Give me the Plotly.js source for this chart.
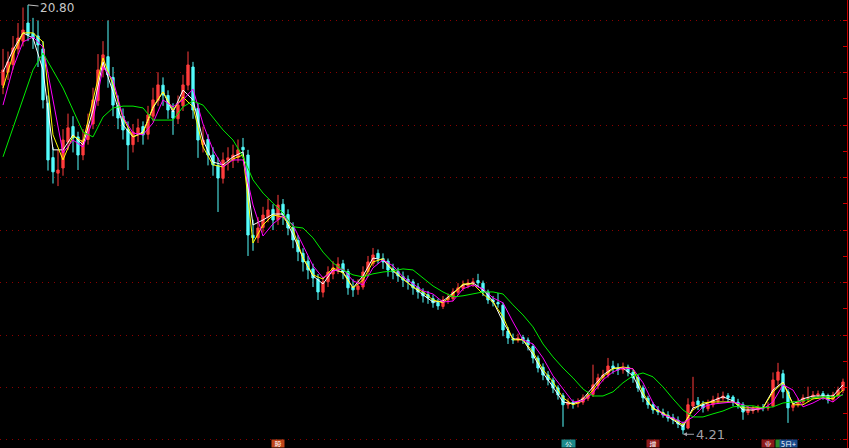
<!DOCTYPE html>
<html>
<head>
<meta charset="utf-8">
<script src="https://cdn.plot.ly/plotly-3.0.1.min.js"></script>
<style>html,body{margin:0;padding:0;background:#000;}#chart{width:849px;height:448px;}</style>
</head>
<body>
<div id="chart"></div>
<script>
// Daily candles (index = trading day), prices
const opens = [
17.70,18.20,18.50,19.10,19.40,20.10,19.70,19.60,19.10,17.00,
14.90,14.30,14.50,15.50,16.10,15.70,15.00,15.60,16.20,17.10,
18.30,18.80,18.00,16.90,16.50,16.00,15.40,15.80,16.10,15.80,
16.50,17.10,17.70,17.30,16.70,16.40,16.90,17.70,18.40,16.80,
15.40,15.60,15.00,14.60,14.10,14.80,14.80,14.90,15.30,15.00,
11.90,11.80,12.20,12.60,12.90,12.50,13.10,12.70,12.20,11.70,
11.20,10.90,10.60,10.20,9.70,10.10,10.40,10.60,10.80,10.50,
9.90,9.80,9.90,10.50,10.80,11.20,11.00,10.90,10.60,10.50,
10.30,10.20,10.10,9.90,9.70,9.60,9.45,9.30,9.15,9.40,
9.45,9.70,9.85,9.95,10.05,10.15,10.05,9.70,9.40,9.30,
9.20,8.20,7.90,7.85,7.95,7.85,7.60,7.15,6.80,6.50,
6.30,6.00,5.70,5.35,5.45,5.40,5.45,5.60,5.75,6.10,
6.40,6.50,6.85,6.75,6.70,6.80,6.60,6.40,6.00,5.60,
5.35,5.15,5.05,4.95,4.85,4.75,4.60,4.45,5.30,5.50,
5.35,5.20,5.35,5.50,5.60,5.70,5.65,5.45,5.35,5.05,
5.12,5.15,5.25,5.22,5.30,6.30,6.55,5.85,5.25,5.35,
5.45,5.60,5.62,5.72,5.78,5.70,5.55,5.72,5.90];
const highs = [
19.10,19.00,19.60,20.10,20.70,20.80,20.30,20.20,19.40,17.30,
15.30,15.20,16.00,16.60,16.50,15.90,16.00,16.60,17.60,18.90,
19.40,20.20,18.40,17.30,16.80,16.30,16.20,16.40,16.30,16.90,
17.60,18.20,18.00,17.50,17.00,17.30,18.10,19.00,18.60,17.00,
16.10,15.80,15.30,14.90,15.10,15.30,15.40,15.60,15.66,15.20,
12.50,12.60,13.00,13.30,13.10,13.46,13.30,12.90,12.40,11.90,
11.40,11.10,10.80,10.40,10.30,10.70,10.90,11.05,10.95,10.60,
10.20,10.20,10.70,11.10,11.41,11.35,11.20,11.00,10.80,10.65,
10.50,10.35,10.20,10.05,9.85,9.75,9.60,9.45,9.55,9.65,
9.85,10.05,10.15,10.20,10.25,10.41,10.15,9.80,9.55,9.67,
9.30,8.35,8.10,8.10,8.05,7.95,7.70,7.25,6.95,6.65,
6.40,6.10,5.80,5.60,5.55,5.60,5.75,5.85,6.90,6.55,
6.70,7.16,7.05,6.95,6.98,6.90,6.70,6.50,6.10,5.70,
5.45,5.30,5.20,5.10,5.00,4.90,4.70,5.60,6.43,5.65,
5.50,5.55,5.70,5.80,5.86,5.80,5.72,5.58,5.45,5.30,
5.30,5.35,5.38,5.45,6.60,6.97,6.70,5.95,5.50,5.60,
5.75,6.05,5.88,5.90,5.88,5.78,5.85,6.05,6.36];
const lows = [
17.35,17.90,18.30,18.90,19.20,19.40,19.10,18.40,16.80,14.40,
13.90,13.80,14.20,15.20,15.10,14.42,14.80,15.40,16.00,16.90,
18.00,17.60,16.50,16.00,15.60,14.42,15.10,15.50,15.40,15.60,
16.30,16.90,16.90,16.40,15.78,16.20,16.70,17.50,16.40,14.89,
15.10,14.60,14.20,12.80,13.90,14.40,14.50,14.70,14.90,11.10,
11.30,11.60,12.00,12.40,12.10,12.30,12.30,11.90,11.40,10.90,
10.50,10.20,9.90,9.40,9.50,9.90,10.20,10.40,10.20,9.60,
9.52,9.60,9.80,10.30,10.70,10.80,10.60,10.30,10.20,10.10,
9.90,9.80,9.60,9.45,9.30,9.25,9.10,9.02,9.05,9.25,
9.35,9.60,9.75,9.85,9.90,9.90,9.55,9.25,9.15,9.10,
8.00,7.70,7.70,7.75,7.70,7.45,6.95,6.60,6.30,6.10,
5.80,5.55,4.50,5.20,5.20,5.25,5.35,5.50,5.65,5.95,
6.25,6.40,6.55,6.50,6.55,6.45,6.20,5.85,5.45,5.20,
5.00,4.95,4.85,4.70,4.60,4.45,4.21,4.40,5.15,5.15,
5.05,5.10,5.25,5.40,5.50,5.45,5.30,5.20,4.77,4.95,
5.00,5.05,5.10,5.12,5.25,6.10,5.60,4.65,5.10,5.25,
5.35,5.45,5.55,5.60,5.55,5.40,5.45,5.62,5.80];
const closes = [
18.29,18.60,19.14,19.52,19.83,19.64,19.52,19.25,17.13,14.81,
14.35,14.42,15.58,16.05,15.66,15.00,15.58,16.16,17.13,18.29,
18.87,18.09,16.93,16.43,15.97,15.39,15.89,16.05,15.78,16.55,
17.13,17.71,17.32,16.74,16.43,16.93,17.71,18.48,16.74,15.58,
15.58,15.00,14.62,14.11,14.81,14.89,15.00,15.20,15.20,11.91,
11.80,12.18,12.68,12.88,12.49,13.07,12.68,12.18,11.72,11.26,
10.87,10.56,10.25,9.71,10.10,10.48,10.64,10.79,10.48,9.87,
9.79,9.94,10.48,10.87,11.14,11.02,10.87,10.56,10.48,10.33,
10.17,10.10,9.87,9.71,9.56,9.48,9.29,9.17,9.40,9.48,
9.71,9.87,9.98,10.06,10.10,10.06,9.71,9.40,9.32,9.25,
8.24,7.93,7.86,7.93,7.86,7.66,7.16,6.77,6.50,6.31,
6.00,5.73,5.35,5.46,5.38,5.46,5.62,5.73,6.12,6.39,
6.50,6.85,6.77,6.70,6.77,6.62,6.39,6.00,5.62,5.35,
5.15,5.07,4.96,4.84,4.77,4.61,4.38,5.35,5.46,5.35,
5.23,5.38,5.54,5.62,5.69,5.62,5.46,5.35,5.07,5.15,
5.15,5.23,5.23,5.27,6.31,6.62,5.85,5.23,5.35,5.46,
5.62,5.62,5.73,5.77,5.69,5.54,5.73,5.92,6.23];

// Moving-average lines, every second trading day
const maWhite = [
18.21,19.06,19.72,19.52,18.29,15.20,15.20,15.78,15.39,16.74,
18.60,17.44,16.16,15.70,15.89,16.82,17.44,16.66,17.51,17.13,
15.58,14.73,14.62,14.93,15.12,12.30,12.49,12.72,12.72,11.91,
11.02,10.33,10.02,10.56,10.48,9.87,10.33,11.02,10.95,10.52,
10.21,9.90,9.60,9.32,9.36,9.67,9.98,10.06,9.79,9.36,
8.55,7.90,7.86,7.28,6.58,6.04,5.46,5.38,5.58,6.04,
6.50,6.77,6.77,6.47,5.69,5.23,5.00,4.77,4.50,5.23,
5.35,5.50,5.66,5.50,5.15,5.15,5.23,5.92,6.23,5.38,
5.58,5.69,5.69,5.69,6.12];
const maYellow = [
17.59,18.87,19.72,19.72,19.37,15.78,14.81,15.74,15.51,17.13,
18.75,17.71,16.43,15.70,15.85,16.86,17.44,16.74,17.24,16.86,
15.31,14.62,14.54,14.85,15.00,11.60,12.30,12.68,12.61,12.11,
11.02,10.37,10.21,10.64,10.44,9.87,10.17,10.87,10.99,10.56,
10.21,9.90,9.71,9.40,9.29,9.63,10.02,10.02,9.63,9.32,
8.75,7.86,7.86,7.39,6.70,6.23,5.62,5.35,5.50,5.92,
6.43,6.74,6.81,6.74,5.81,5.19,5.04,4.80,4.57,5.15,
5.42,5.46,5.46,5.46,5.23,5.23,5.23,5.85,6.20,5.35,
5.35,5.58,5.62,5.58,5.92];
const maMagenta = [
16.93,18.36,19.37,19.56,19.17,17.13,15.08,15.58,15.31,16.35,
18.40,17.90,16.47,15.85,15.78,16.24,17.13,16.86,17.13,17.55,
16.20,15.20,14.54,14.81,14.81,13.07,11.87,12.34,12.65,12.30,
11.49,10.72,10.25,10.52,10.60,10.14,9.98,10.64,10.95,10.72,
10.29,10.02,9.75,9.63,9.32,9.36,9.83,9.98,9.83,9.48,
9.29,8.55,7.86,7.70,7.16,6.47,5.96,5.46,5.50,5.81,
6.31,6.62,6.77,6.74,6.20,5.42,4.96,4.84,4.65,4.88,
5.27,5.38,5.42,5.46,5.35,5.19,5.19,5.46,6.12,5.92,
5.27,5.42,5.62,5.46,5.77];
const maGreen = [
14.93,16.04,17.13,18.29,18.94,18.29,17.59,16.74,15.89,15.70,
16.47,16.82,16.89,16.89,16.82,16.35,16.35,16.35,16.86,17.09,
16.93,16.47,15.97,15.58,14.93,14.04,13.53,13.14,12.76,12.23,
12.18,11.80,11.25,10.83,10.56,10.37,10.29,10.41,10.48,10.52,
10.60,10.56,10.25,9.94,9.71,9.52,9.56,9.63,9.71,9.71,
9.63,9.21,8.82,8.36,7.70,7.20,6.77,6.39,5.96,5.69,
5.69,5.85,6.20,6.47,6.58,6.43,6.04,5.58,5.15,4.88,
4.88,5.00,5.11,5.27,5.31,5.31,5.23,5.27,5.42,5.46,
5.50,5.62,5.66,5.66,5.73];

// Event tags along the bottom (trading-day index, label)
const eventIdx = [55, 113, 130, 153, 155, 157];
const eventText = ['股', '公', '增', '业', ' ', '5日+'];

const N = closes.length;
const idx = closes.map((_, i) => i);
const maIdx = maGreen.map((_, k) => 2 * k);

let hiI = 0, loI = 0;
for (let i = 0; i < N; i++) {
  if (highs[i] > highs[hiI]) hiI = i;
  if (lows[i] < lows[loI]) loI = i;
}

const traces = [
  {
    type: 'candlestick', x: idx, open: opens, high: highs, low: lows, close: closes,
    increasing: {line: {color: '#ff3c3c', width: 1}, fillcolor: '#ff3c3c'},
    decreasing: {line: {color: '#54fcfc', width: 1}, fillcolor: '#54fcfc'},
    whiskerwidth: 0, hoverinfo: 'skip'
  },
  {type: 'scatter', mode: 'lines', x: maIdx, y: maWhite, line: {color: '#ffffff', width: 1}, hoverinfo: 'skip'},
  {type: 'scatter', mode: 'lines', x: maIdx, y: maYellow, line: {color: '#ffff00', width: 1}, hoverinfo: 'skip'},
  {type: 'scatter', mode: 'lines', x: maIdx, y: maMagenta, line: {color: '#ff00ff', width: 1}, hoverinfo: 'skip'},
  {type: 'scatter', mode: 'lines', x: maIdx, y: maGreen, line: {color: '#00ee00', width: 1}, hoverinfo: 'skip'}
];

const evColors = ['#c0461a', '#1d8a8a', '#8c1a1a', '#8c1a1a', '#2a8a2a', '#1a4a8a'];
const evWidths = [12, 13, 12, 12, 4, 17];
const annotations = [
  {x: hiI, y: highs[hiI], xref: 'x', yref: 'y', text: highs[hiI].toFixed(2),
   showarrow: true, arrowhead: 0, arrowwidth: 1, arrowcolor: '#c0c0c0', ax: 29, ay: 3,
   font: {family: 'DejaVu Sans, Arial', size: 12, color: '#c8c8c8'}},
  {x: loI, y: lows[loI], xref: 'x', yref: 'y', text: lows[loI].toFixed(2),
   showarrow: true, arrowhead: 2, arrowsize: 0.8, arrowwidth: 1, arrowcolor: '#a0a0a8', ax: 27, ay: 0,
   font: {family: 'DejaVu Sans, Arial', size: 13, color: '#a0a0a8'}}
];
eventIdx.forEach((e, j) => {
  annotations.push({x: e, y: 0, xref: 'x', yref: 'paper', yanchor: 'bottom', showarrow: false,
    text: eventText[j], bgcolor: evColors[j], width: evWidths[j], height: 7, borderpad: 0,
    font: {family: 'Noto Sans CJK SC', size: 7, color: '#ffffff'}});
});

const layout = {
  width: 849, height: 448,
  paper_bgcolor: '#000000', plot_bgcolor: '#000000',
  margin: {l: 0, r: 2, t: 0, b: 0, pad: 0},
  showlegend: false, hovermode: false, boxgap: 0.35,
  xaxis: {range: [-0.6, 168.8], showgrid: false, zeroline: false, showticklabels: false,
          ticks: '', showline: false, rangeslider: {visible: false}, fixedrange: true},
  yaxis: {range: [3.68, 20.99], side: 'right', tickmode: 'linear', tick0: 3.99, dtick: 2.028,
          showgrid: true, gridcolor: '#8c0000', gridwidth: 1, griddash: '1px,5px',
          zeroline: false, showticklabels: false, ticks: 'inside', ticklen: 4, tickcolor: '#c80000',
          showline: true, linecolor: '#c80000', linewidth: 1, fixedrange: true,
          minor: {tick0: 3.99, dtick: 1.014, ticks: 'inside', ticklen: 4, tickcolor: '#c80000', showgrid: false}},
  annotations: annotations
};

Plotly.newPlot('chart', traces, layout, {displayModeBar: false, staticPlot: true});
</script>
</body>
</html>
